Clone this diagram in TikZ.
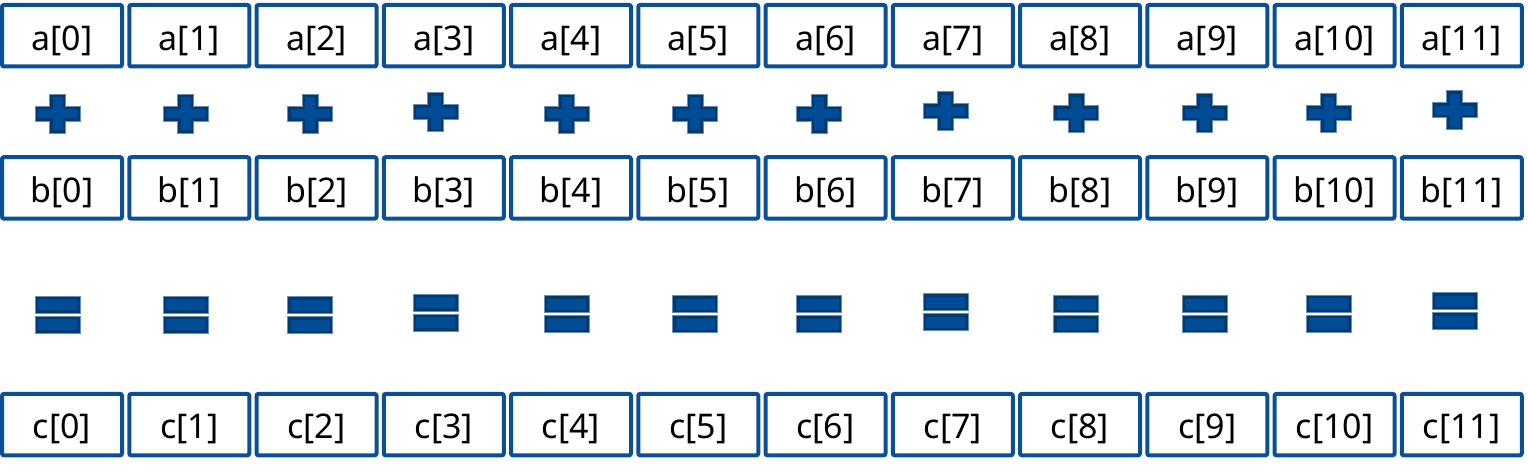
\documentclass[tikz,border=0pt]{standalone}
\usepackage{fontspec}
\setmainfont{Noto Sans}
\definecolor{boxblue}{HTML}{0B4F97}
\definecolor{symfill}{HTML}{004C97}
\definecolor{symdark}{HTML}{003A72}
\definecolor{symedge}{HTML}{6A8DB6}
\tikzset{
  cell/.style={draw=boxblue, line width=4pt, rounded corners=2pt, minimum width=120pt,
    minimum height=61.5pt, inner sep=0pt, text height=29pt, text depth=0.4pt,
    font=\fontsize{34}{40}\selectfont, text=black},
  plussym/.pic={
    \path[fill=symfill, draw=symdark, line width=3pt, line join=miter]
      (-21,-6) -- (-6.5,-6) -- (-6.5,-18) -- (6.5,-18) -- (6.5,-6) -- (21,-6) --
      (21,6) -- (6.5,6) -- (6.5,18) -- (-6.5,18) -- (-6.5,6) -- (-21,6) -- cycle;
    \draw[symedge, line width=0.8pt]
      (-22.5,-7.5) -- (-8,-7.5) -- (-8,-19.5) -- (8,-19.5) -- (8,-7.5) -- (22.5,-7.5) --
      (22.5,7.5) -- (8,7.5) -- (8,19.5) -- (-8,19.5) -- (-8,7.5) -- (-22.5,7.5) -- cycle;
  },
  eqbar/.style={fill=symfill, draw=symdark, line width=3pt},
  eqedge/.style={draw=symedge, line width=0.8pt},
  eqsym/.pic={
    \path[eqbar] (-21,-17) rectangle (21,-3);
    \path[eqbar] (-21,3) rectangle (21,17);
    \path[eqedge] (-22.5,-18.5) rectangle (22.5,-1.5);
    \path[eqedge] (-22.5,1.5) rectangle (22.5,18.5);
  }
}
\begin{document}
\begin{tikzpicture}[x=1pt,y=-1pt]
\useasboundingbox (0,0) rectangle (1528,471);
\foreach \i/\px/\py/\ey in {0/57.5/113.5/314.5, 1/185.5/113.5/314.5, 2/310/113.5/315,
  3/435.5/112/312.5, 4/566.5/113.5/314, 5/695/113.5/314, 6/819/113.5/314,
  7/945.5/111/312, 8/1076/113/314, 9/1204.5/113/314, 10/1328.5/113/313.5, 11/1454.5/110/311}{
  \pgfmathsetmacro{\cx}{62+127.25*\i}
  \node[cell] (a\i) at (\cx,35.7) {a[\i]};
  \node[cell] (b\i) at (\cx,187.9) {b[\i]};
  \node[cell] (c\i) at (\cx,424.6) {c[\i]};
  \pic (p\i) at (\px,\py) {plussym};
  \pic (e\i) at (\px,\ey) {eqsym};
}
\end{tikzpicture}
\end{document}
